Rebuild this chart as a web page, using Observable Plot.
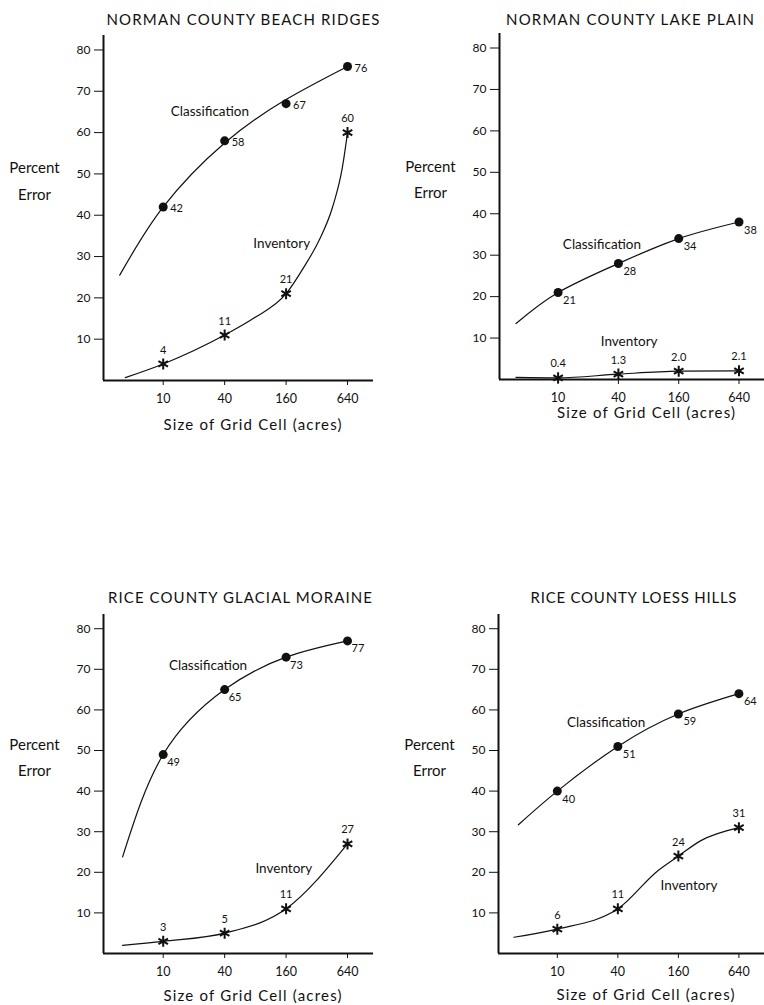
<!DOCTYPE html>
<html><head><meta charset="utf-8">
<script src="https://cdn.jsdelivr.net/npm/d3@7"></script>
<script src="https://cdn.jsdelivr.net/npm/@observablehq/plot@0.6"></script>
<style>
body{margin:0;background:#fff;}
#wrap{position:relative;width:764px;height:1005px;background:#fff;}
#wrap svg{position:absolute;}
</style></head><body><div id="wrap"></div>
<script>
const titles = ["NORMAN COUNTY BEACH RIDGES", "NORMAN COUNTY LAKE PLAIN", "RICE COUNTY GLACIAL MORAINE", "RICE COUNTY LOESS HILLS"];
const gridSizes = [10, 40, 160, 640];
const yTicks = [10, 20, 30, 40, 50, 60, 70, 80];
const classification = [[42, 58, 67, 76], [21, 28, 34, 38], [49, 65, 73, 77], [40, 51, 59, 64]];
const inventory = [[4, 11, 21, 60], [0.4, 1.3, 2.0, 2.1], [3, 5, 11, 27], [6, 11, 24, 31]];
const inventoryLabels = [["4", "11", "21", "60"], ["0.4", "1.3", "2.0", "2.1"], ["3", "5", "11", "27"], ["6", "11", "24", "31"]];
// traced fitted curves
const classCurveX = [[3.75, 10, 40, 160, 640], [3.8, 10, 40, 160, 640], [4.0, 10, 40, 160, 640], [4.1, 10, 40, 160, 640]];
const classCurveY = [[25.5, 42, 57.5, 68, 76], [13.5, 21, 28, 34, 38], [23.8, 49, 65, 73, 77], [31.7, 40, 51, 59, 64]];
const invCurveX = [[4.25, 10, 40, 77.5, 160, 240, 338, 457, 571, 640], [3.8, 10, 40, 160, 640], [4.0, 10, 40, 160, 640], [3.7, 10, 40, 100, 160, 268, 640]];
const invCurveY = [[0.7, 4, 11, 15.1, 21, 27.5, 34, 42, 51.7, 60], [0.5, 0.4, 1.3, 2.0, 2.1], [2.0, 3, 5, 11, 27], [4.0, 6, 11, 20.4, 24, 27.8, 31]];
// series name anchors
const seriesNames = ["Classification", "Inventory"];
const seriesLabelX = [[28.7, 145], [27.4, 51.2], [27.5, 152], [30.6, 204]];
const seriesLabelY = [[65, 33], [32.5, 9.2], [71, 20.8], [56.9, 16.7]];

const layout = [
  {left: 0, top: 0, height: 440, mL: 103, mR: 9, mT: 35, mB: 60, cdx: 7, cdy: 2, xl: 45, tl: -15, tdx: 4.5, tw: 273},
  {left: 382, top: 0, height: 440, mL: 117, mR: 0, mT: 33, mB: 61, cdx: 5, cdy: 8, xl: 34, tl: -13, tdx: -2, tw: 248},
  {left: 0, top: 580, height: 425, mL: 103, mR: 9, mT: 34, mB: 52, cdx: 4, cdy: 8, xl: 43, tl: -16, tdx: 1.5, tw: 264},
  {left: 382, top: 580, height: 425, mL: 116, mR: 0, mT: 34, mB: 52, cdx: 5, cdy: 8, xl: 42, tl: -16, tdx: 2, tw: 206}
];
const FONT = "Lato, 'Noto Sans', sans-serif";
const xDomain = [2.6, 1150];
const wrap = document.getElementById("wrap");

layout.forEach((L, p) => {
  const frameH = L.height - L.mT - L.mB;
  const cls = gridSizes.map((g, i) => ({g, v: classification[p][i], t: String(classification[p][i])}));
  const inv = gridSizes.map((g, i) => ({g, v: inventory[p][i], t: inventoryLabels[p][i]}));
  const cCurve = classCurveX[p].map((x, i) => ({x, y: classCurveY[p][i]}));
  const iCurve = invCurveX[p].map((x, i) => ({x, y: invCurveY[p][i]}));
  const names = seriesNames.map((n, i) => ({n, x: seriesLabelX[p][i], y: seriesLabelY[p][i]}));
  const svg = Plot.plot({
    width: 382,
    height: L.height,
    marginLeft: L.mL, marginRight: L.mR, marginTop: L.mT, marginBottom: L.mB,
    style: {fontFamily: FONT, color: "#111", background: "transparent", overflow: "visible"},
    x: {type: "log", domain: xDomain, axis: null},
    y: {domain: [0, 83.5], axis: null},
    marks: [
      Plot.axisY(yTicks, {tickSize: 9, tickPadding: 4, fontSize: 12, label: null, strokeWidth: 1}),
      // x ticks and tick labels
      Plot.tickX(gridSizes, {x: d => d, insetTop: frameH, insetBottom: -5, strokeWidth: 1}),
      Plot.text(gridSizes, {x: d => d, text: d => String(d), frameAnchor: "bottom", lineAnchor: "middle", dy: 18, fontSize: 12.5}),
      Plot.ruleX([xDomain[0]], {strokeWidth: 2}),
      Plot.ruleY([0], {strokeWidth: 2}),
      Plot.line(cCurve, {x: "x", y: "y", curve: "natural", strokeWidth: 1.2}),
      Plot.line(iCurve, {x: "x", y: "y", curve: "monotone-x", strokeWidth: 1.2}),
      Plot.dot(cls, {x: "g", y: "v", r: 4.5, fill: "#111"}),
      Plot.dot(inv, {x: "g", y: "v", r: 5.2, symbol: "asterisk", stroke: "#111", strokeWidth: 2}),
      Plot.text(cls, {x: "g", y: "v", text: "t", dx: L.cdx, dy: L.cdy, textAnchor: "start", fontSize: 11}),
      Plot.text(inv, {x: "g", y: "v", text: "t", dy: -14, fontSize: 11}),
      Plot.text(names, {x: "x", y: "y", text: "n", fontSize: 13.5}),
      Plot.text([titles[p]], {frameAnchor: "top", lineAnchor: "middle", textAnchor: "middle", dx: L.tdx, dy: L.tl, fontSize: 15}),
      Plot.text(["Percent\nError"], {frameAnchor: "left", textAnchor: "middle", lineAnchor: "middle", y: 49, dx: -69, fontSize: 15, lineHeight: 1.75}),
      Plot.text(["Size of Grid Cell (acres)"], {frameAnchor: "bottom", lineAnchor: "middle", textAnchor: "middle", dx: 14, dy: L.xl, fontSize: 15})
    ]
  });
  svg.style.left = L.left + "px";
  svg.style.top = L.top + "px";
  const s = d3.select(svg);
  s.selectAll("text").filter(function () { return this.textContent === titles[p]; })
    .attr("textLength", L.tw).attr("lengthAdjust", "spacing");
  s.selectAll("text").filter(function () { return this.textContent === "Size of Grid Cell (acres)"; })
    .attr("textLength", 178).attr("lengthAdjust", "spacing");
  wrap.appendChild(svg);
});
</script></body></html>
